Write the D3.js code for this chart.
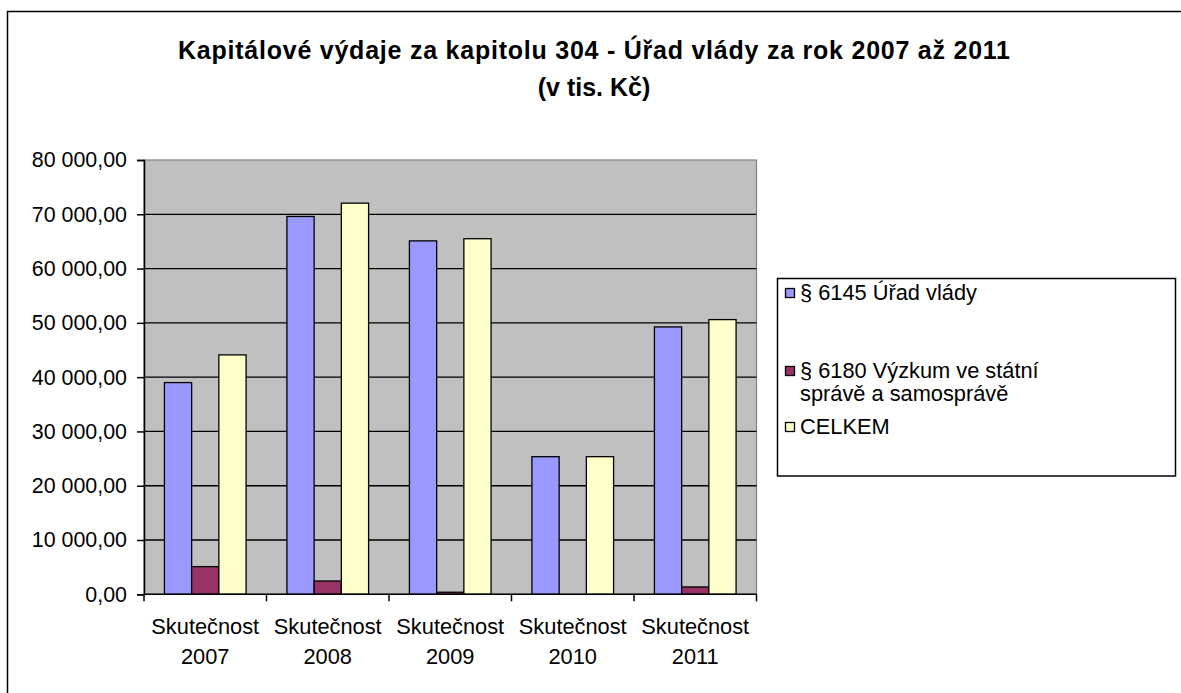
<!DOCTYPE html>
<html>
<head>
<meta charset="utf-8">
<script src="https://cdn.jsdelivr.net/npm/d3@7"></script>
<style>
  body { margin: 0; background: #fff; }
  text { font-family: Arial, "Liberation Sans", sans-serif; fill: #000; }
</style>
</head>
<body>
<svg width="1181" height="693"></svg>
<script>
// chart data (tis. Kč)
var categories = ["Skutečnost 2007", "Skutečnost 2008", "Skutečnost 2009", "Skutečnost 2010", "Skutečnost 2011"];
var seriesNames = ["§ 6145 Úřad vlády", "§ 6180 Výzkum ve státní správě a samosprávě", "CELKEM"];
var urad = [39000, 69600, 65100, 25350, 49250];
var vyzkum = [5100, 2450, 380, 0, 1350];
var celkem = [44100, 72050, 65500, 25350, 50600];
var yTicks = [0, 10000, 20000, 30000, 40000, 50000, 60000, 70000, 80000];
var colors = ["#9999ff", "#993366", "#ffffcc"];
var legendLines = [["§ 6145 Úřad vlády"], ["§ 6180 Výzkum ve státní", "správě a samosprávě"], ["CELKEM"]];

var svg = d3.select("svg");

// outer chart border (runs off the picture on right/bottom)
svg.append("rect")
    .attr("x", 7.5).attr("y", 11.5)
    .attr("width", 1200).attr("height", 700)
    .attr("fill", "#fff").attr("stroke", "#000").attr("stroke-width", 1.5);

var plot = { left: 144, top: 160, right: 756.5, bottom: 594.3 };

var x0 = d3.scaleBand().domain(categories).range([plot.left, plot.right]).padding(0);
var x1 = d3.scaleBand().domain(d3.range(3)).range([0, x0.bandwidth()]).paddingInner(0).paddingOuter(0.75);
var y = d3.scaleLinear().domain([0, 80000]).range([plot.bottom, plot.top]);

// plot background
svg.append("rect")
    .attr("x", plot.left).attr("y", plot.top)
    .attr("width", plot.right - plot.left).attr("height", plot.bottom - plot.top)
    .attr("fill", "#c0c0c0").attr("stroke", "#808080").attr("stroke-width", 1.2);

// gridlines
svg.append("g").selectAll("line")
    .data(yTicks.slice(1, -1))
    .enter().append("line")
    .attr("x1", plot.left).attr("x2", plot.right)
    .attr("y1", function (d) { return y(d); }).attr("y2", function (d) { return y(d); })
    .attr("stroke", "#000").attr("stroke-width", 1.3);

// bars
var rows = categories.map(function (c, i) { return { cat: c, vals: [urad[i], vyzkum[i], celkem[i]] }; });
var groups = svg.append("g").selectAll("g")
    .data(rows)
    .enter().append("g")
    .attr("transform", function (d) { return "translate(" + x0(d.cat) + ",0)"; });

groups.selectAll("rect")
    .data(function (d) { return d.vals.map(function (v, k) { return { k: k, v: v }; }); })
    .enter().append("rect")
    .attr("x", function (d) { return x1(d.k); })
    .attr("width", x1.bandwidth())
    .attr("y", function (d) { return y(d.v); })
    .attr("height", function (d) { return y(0) - y(d.v); })
    .attr("fill", function (d) { return colors[d.k]; })
    .attr("stroke", "#000").attr("stroke-width", 1.3);

// y axis
var fmt = function (d) {
    var s = d3.format(",.2f")(d);
    return s.replace(/,/g, " ").replace(".", ",");
};
var yAxis = svg.append("g")
    .attr("transform", "translate(" + plot.left + ",0)")
    .call(d3.axisLeft(y).tickValues(yTicks).tickSize(7).tickPadding(10).tickFormat(fmt));
yAxis.select(".domain").attr("stroke", "#000").attr("stroke-width", 1.5);
yAxis.selectAll(".tick line").attr("stroke", "#000").attr("stroke-width", 1.5);
yAxis.selectAll("text").attr("font-size", 21.4).attr("font-family", "Arial, 'Liberation Sans', sans-serif").attr("fill", "#000");

// x axis
var xAxis = svg.append("g")
    .attr("transform", "translate(0," + plot.bottom + ")");
xAxis.append("line")
    .attr("x1", plot.left).attr("x2", plot.right)
    .attr("stroke", "#000").attr("stroke-width", 1.5);
xAxis.selectAll(".tk")
    .data(categories.concat([null]))
    .enter().append("line")
    .attr("class", "tk")
    .attr("x1", function (d) { return d ? x0(d) : plot.right; })
    .attr("x2", function (d) { return d ? x0(d) : plot.right; })
    .attr("y1", 0).attr("y2", 7)
    .attr("stroke", "#000").attr("stroke-width", 1.5);
var catLabels = xAxis.selectAll(".cl")
    .data(categories)
    .enter().append("text")
    .attr("class", "cl")
    .attr("text-anchor", "middle")
    .attr("font-size", 21.8)
    .attr("transform", function (d) { return "translate(" + (x0(d) + x0.bandwidth() / 2) + ",0)"; });
catLabels.append("tspan").attr("x", 0).attr("y", 40).text(function (d) { return d.split(" ")[0]; });
catLabels.append("tspan").attr("x", 0).attr("y", 70).text(function (d) { return d.split(" ")[1]; });

// title
var title = svg.append("text")
    .attr("text-anchor", "middle")
    .attr("font-size", 25).attr("font-weight", "bold");
title.append("tspan").attr("x", 594).attr("y", 59)
    .attr("textLength", 832).attr("lengthAdjust", "spacing")
    .text("Kapitálové výdaje za kapitolu 304 - Úřad vlády za rok 2007 až 2011");
title.append("tspan").attr("x", 594).attr("y", 96).text("(v tis. Kč)");

// legend
var legend = svg.append("g");
legend.append("rect")
    .attr("x", 777.5).attr("y", 278.5).attr("width", 398).attr("height", 197.5)
    .attr("fill", "#fff").attr("stroke", "#000").attr("stroke-width", 1.5);
var itemY = [293, 371, 427];
var items = legend.selectAll(".li")
    .data(seriesNames)
    .enter().append("g")
    .attr("class", "li")
    .attr("transform", function (d, i) { return "translate(785," + itemY[i] + ")"; });
items.append("rect")
    .attr("x", 0.5).attr("y", -4.5).attr("width", 9).attr("height", 9)
    .attr("fill", function (d, i) { return colors[i]; })
    .attr("stroke", "#000").attr("stroke-width", 1.3);
items.each(function (d, i) {
    var t = d3.select(this).append("text").attr("font-size", 21.8);
    legendLines[i].forEach(function (line, j) {
        t.append("tspan").attr("x", 15).attr("y", 7 + j * 23).text(line);
    });
});
</script>
</body>
</html>
